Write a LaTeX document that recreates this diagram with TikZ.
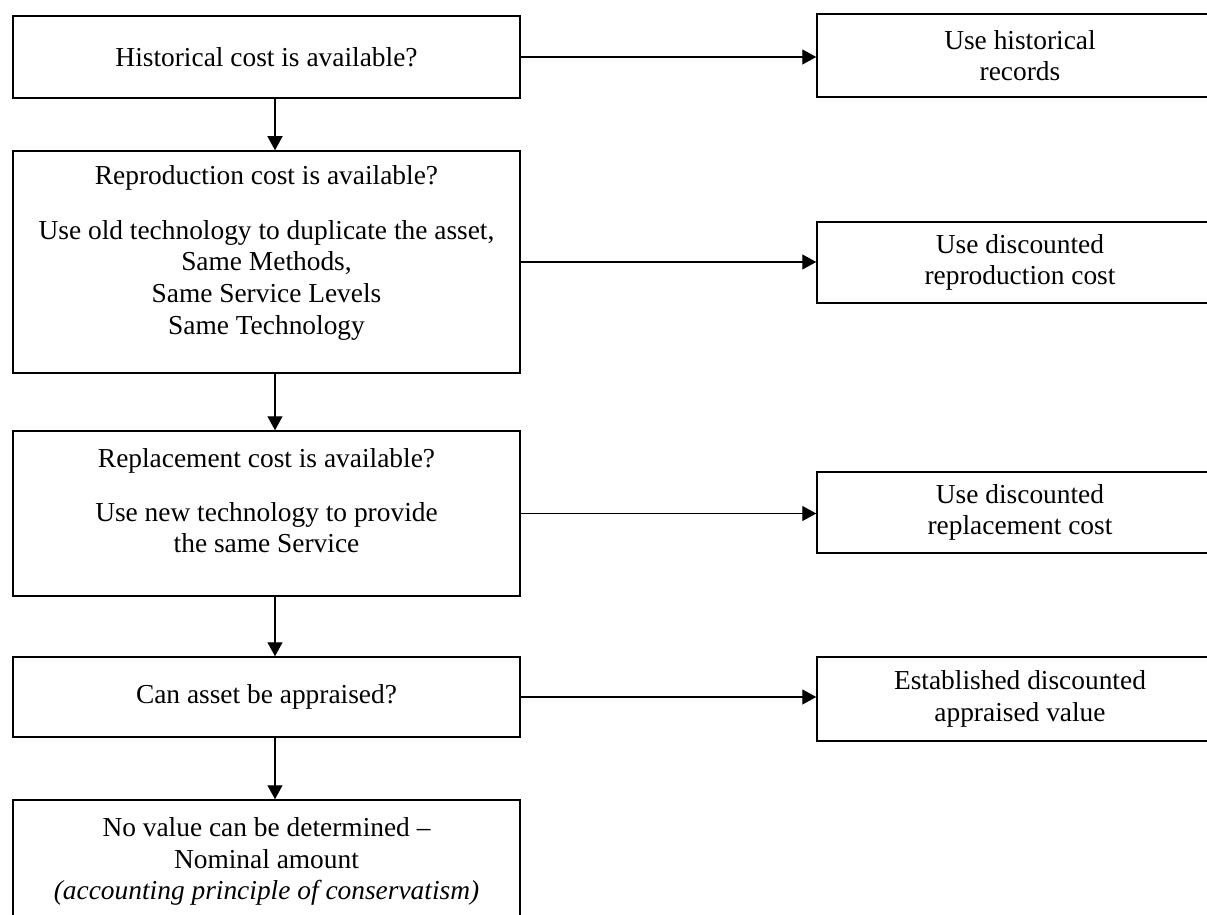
\documentclass[tikz,border=0pt]{standalone}
\usepackage{fontspec}
\setmainfont{Liberation Serif}
\usetikzlibrary{arrows.meta}
\begin{document}
\begin{tikzpicture}[x=0.5pt,y=-0.5pt,
  txt/.style={font=\fontsize{13.7pt}{15.8pt}\selectfont, align=center, inner sep=0pt},
  lbox/.style={draw=black, line width=0.75pt, rectangle, minimum width=253.5pt, inner sep=0pt, txt},
  rbox/.style={draw=black, line width=0.75pt, rectangle, minimum width=203pt, inner sep=0pt, txt},
  arr/.style={draw=black, line width=0.65pt, -{Triangle[length=7pt,width=7.5pt]}}]
\useasboundingbox (0,0) rectangle (1207,915);
\fill[white] (0,0) rectangle (1207,915);
\clip (0,0) rectangle (1207,915);
% left column
\node[lbox, minimum height=41pt] (b1) at (266.5,57) {Historical cost is available?};
\node[lbox, minimum height=111pt] (b2) at (266.5,262) {};
\node[lbox, minimum height=82.5pt] (b3) at (266.5,513.5) {};
\node[lbox, minimum height=40pt] (b4) at (266.5,697) {Can asset be appraised?};
\node[lbox, minimum height=62.5pt] (b5) at (266.5,862.5) {};
\node[txt, anchor=north] (t2) at ([yshift=-7.5pt]b2.north) {Reproduction cost is available?\\[11.5pt]
  Use old technology to duplicate the asset,\\ Same Methods,\\ Same Service Levels\\ Same Technology};
\node[txt, anchor=north] (t3) at ([yshift=-9pt]b3.north) {Replacement cost is available?\\[11pt]
  Use new technology to provide\\ the same Service};
\node[txt, anchor=north] (t5) at ([yshift=-9pt]b5.north) {No value can be determined --\\ Nominal amount\\
  \textit{(accounting principle of conservatism)}};
% right column
\node[rbox, minimum height=41.5pt] (r1) at (1020,55.5) {Use historical\\records};
\node[rbox, minimum height=40.5pt] (r2) at (1020,262.5) {Use discounted\\reproduction cost};
\node[rbox, minimum height=40.5pt] (r3) at (1020,512.5) {Use discounted\\replacement cost};
\node[rbox, minimum height=42pt] (r4) at (1020,699) {Established discounted\\appraised value};
% vertical connectors
\draw[arr] ([xshift=4.25pt]b1.south) -- ([xshift=4.25pt]b2.north);
\draw[arr] ([xshift=4.25pt]b2.south) -- ([xshift=4.25pt]b3.north);
\draw[arr] ([xshift=4.25pt]b3.south) -- ([xshift=4.25pt]b4.north);
\draw[arr] ([xshift=4.25pt]b4.south) -- ([xshift=4.25pt]b5.north);
% horizontal connectors
\draw[arr] (b1.east) -- (b1.east -| r1.west);
\draw[arr] (b2.east) -- (b2.east -| r2.west);
\draw[arr] (b3.east) -- (b3.east -| r3.west);
\draw[arr] (b4.east) -- (b4.east -| r4.west);
\end{tikzpicture}
\end{document}
